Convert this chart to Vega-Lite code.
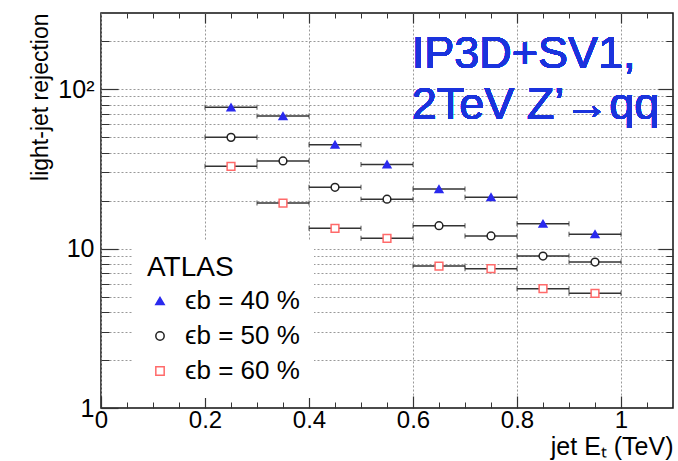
{
  "$schema": "https://vega.github.io/schema/vega-lite/v6.json",
  "width": 572,
  "height": 395,
  "autosize": {"type": "none"},
  "padding": {"left": 101, "top": 13, "right": 5, "bottom": 53},
  "config": {
    "font": "Liberation Sans",
    "view": {"stroke": "#111", "strokeWidth": 1.5},
    "axis": {"labelFont": "Liberation Sans", "titleFont": "Liberation Sans", "labelColor": "#000", "titleColor": "#000", "tickColor": "#333", "domain": false, "labelFlush": false, "labelOverlap": false}
  },
  "data": {
    "values": [
      {"eff": "ϵb = 40 %", "et": 0.25, "lo": 0.2, "hi": 0.3, "rej": 76.8},
      {"eff": "ϵb = 40 %", "et": 0.35, "lo": 0.3, "hi": 0.4, "rej": 67.7},
      {"eff": "ϵb = 40 %", "et": 0.45, "lo": 0.4, "hi": 0.5, "rej": 44.8},
      {"eff": "ϵb = 40 %", "et": 0.55, "lo": 0.5, "hi": 0.6, "rej": 33.7},
      {"eff": "ϵb = 40 %", "et": 0.65, "lo": 0.6, "hi": 0.7, "rej": 23.6},
      {"eff": "ϵb = 40 %", "et": 0.75, "lo": 0.7, "hi": 0.8, "rej": 21.0},
      {"eff": "ϵb = 40 %", "et": 0.85, "lo": 0.8, "hi": 0.9, "rej": 14.3},
      {"eff": "ϵb = 40 %", "et": 0.95, "lo": 0.9, "hi": 1.0, "rej": 12.3},
      {"eff": "ϵb = 50 %", "et": 0.25, "lo": 0.2, "hi": 0.3, "rej": 49.8},
      {"eff": "ϵb = 50 %", "et": 0.35, "lo": 0.3, "hi": 0.4, "rej": 35.4},
      {"eff": "ϵb = 50 %", "et": 0.45, "lo": 0.4, "hi": 0.5, "rej": 24.2},
      {"eff": "ϵb = 50 %", "et": 0.55, "lo": 0.5, "hi": 0.6, "rej": 20.4},
      {"eff": "ϵb = 50 %", "et": 0.65, "lo": 0.6, "hi": 0.7, "rej": 13.9},
      {"eff": "ϵb = 50 %", "et": 0.75, "lo": 0.7, "hi": 0.8, "rej": 12.0},
      {"eff": "ϵb = 50 %", "et": 0.85, "lo": 0.8, "hi": 0.9, "rej": 8.97},
      {"eff": "ϵb = 50 %", "et": 0.95, "lo": 0.9, "hi": 1.0, "rej": 8.23},
      {"eff": "ϵb = 60 %", "et": 0.25, "lo": 0.2, "hi": 0.3, "rej": 32.8},
      {"eff": "ϵb = 60 %", "et": 0.35, "lo": 0.3, "hi": 0.4, "rej": 19.3},
      {"eff": "ϵb = 60 %", "et": 0.45, "lo": 0.4, "hi": 0.5, "rej": 13.4},
      {"eff": "ϵb = 60 %", "et": 0.55, "lo": 0.5, "hi": 0.6, "rej": 11.6},
      {"eff": "ϵb = 60 %", "et": 0.65, "lo": 0.6, "hi": 0.7, "rej": 7.77},
      {"eff": "ϵb = 60 %", "et": 0.75, "lo": 0.7, "hi": 0.8, "rej": 7.47},
      {"eff": "ϵb = 60 %", "et": 0.85, "lo": 0.8, "hi": 0.9, "rej": 5.6},
      {"eff": "ϵb = 60 %", "et": 0.95, "lo": 0.9, "hi": 1.0, "rej": 5.24}
    ]
  },
  "resolve": {"axis": {"x": "independent", "y": "independent"}},
  "layer": [
    {
      "mark": {"type": "errorbar", "ticks": {"size": 5, "color": "#333", "thickness": 1.2}, "rule": {"color": "#333", "strokeWidth": 1.5}},
      "encoding": {
        "x": {"field": "lo", "type": "quantitative", "scale": {"domain": [0, 1.1], "nice": false, "zero": false},
          "axis": {"orient": "bottom", "title": null, "labels": false, "grid": false, "tickSize": -6,
            "values": [0.05, 0.1, 0.15, 0.25, 0.3, 0.35, 0.45, 0.5, 0.55, 0.65, 0.7, 0.75, 0.85, 0.9, 0.95, 1.05]}},
        "x2": {"field": "hi"},
        "y": {"field": "rej", "type": "quantitative", "scale": {"type": "log", "domain": [1, 300], "nice": false},
          "axis": {"orient": "left", "title": null, "labels": false, "grid": true, "gridDash": [2, 2], "gridColor": "#999", "gridWidth": 1, "tickSize": -8,
            "values": [2, 3, 4, 5, 6, 7, 8, 9, 10, 20, 30, 40, 50, 60, 70, 80, 90, 100, 200]}}
      }
    },
    {
      "mark": {"type": "point", "filled": false, "strokeWidth": 1.5, "opacity": 1},
      "encoding": {
        "x": {"field": "et", "type": "quantitative", "scale": {"domain": [0, 1.1], "nice": false, "zero": false},
          "axis": {"orient": "top", "title": null, "labels": false, "grid": false, "tickSize": -5,
            "values": [0.05, 0.1, 0.15, 0.25, 0.3, 0.35, 0.45, 0.5, 0.55, 0.65, 0.7, 0.75, 0.85, 0.9, 0.95, 1.05]}},
        "y": {"field": "rej", "type": "quantitative", "scale": {"type": "log", "domain": [1, 300], "nice": false},
          "axis": {"orient": "right", "title": null, "labels": false, "grid": false, "tickSize": -7,
            "values": [2, 3, 4, 5, 6, 7, 8, 9, 20, 30, 40, 50, 60, 70, 80, 90, 200]}},
        "shape": {"field": "eff", "type": "nominal", "scale": {"domain": ["ϵb = 40 %", "ϵb = 50 %", "ϵb = 60 %"], "range": ["triangle-up", "circle", "square"]},
          "legend": {"orient": "none", "legendX": 32, "legendY": 227, "title": "ATLAS", "titleFontSize": 28, "titleFontWeight": "normal", "titleColor": "#000", "titleFont": "Liberation Sans",
            "labelFontSize": 26, "labelFont": "Liberation Sans", "labelColor": "#000", "fillColor": "white", "padding": 14, "rowPadding": 9, "titlePadding": 6, "symbolStrokeWidth": 1.5, "symbolSize": 70, "labelOffset": 12}},
        "color": {"field": "eff", "type": "nominal", "scale": {"domain": ["ϵb = 40 %", "ϵb = 50 %", "ϵb = 60 %"], "range": ["#2a2aee", "#222222", "#ff6a6a"]}},
        "fill": {"field": "eff", "type": "nominal", "scale": {"domain": ["ϵb = 40 %", "ϵb = 50 %", "ϵb = 60 %"], "range": ["#2a2aee", "#ffffff", "#ffffff"]}},
        "size": {"value": 60}
      }
    },
    {
      "mark": {"type": "text", "text": "IP3D+SV1,", "align": "left", "baseline": "alphabetic", "fontSize": 45, "font": "Liberation Sans", "color": "#1a33dd"},
      "encoding": {
        "x": {"datum": 0.5975, "type": "quantitative", "scale": {"domain": [0, 1.1], "nice": false, "zero": false},
          "axis": {"orient": "bottom", "title": "jet Eₜ (TeV)", "titleFontSize": 25, "titleFontWeight": "normal", "titleAnchor": "end", "titleAlign": "right", "titleBaseline": "alphabetic", "titleX": 572, "titleY": 46,
            "labels": true, "labelFontSize": 24, "labelPadding": 12, "labelExpr": "format(datum.value, '.1~f')", "grid": true, "gridDash": [2, 2], "gridColor": "#999", "gridWidth": 1, "tickSize": -12, "tickWidth": 1.2,
            "values": [0, 0.2, 0.4, 0.6, 0.8, 1.0]}},
        "y": {"datum": 135.5, "type": "quantitative", "scale": {"type": "log", "domain": [1, 300], "nice": false},
          "axis": {"orient": "left", "title": "light-jet rejection", "titleFontSize": 23, "titleFontWeight": "normal", "titleAngle": -90, "titleAlign": "right", "titleBaseline": "alphabetic", "titleX": -54, "titleY": 0,
            "labels": true, "labelFontSize": 25, "labelPadding": 24, "labelExpr": "datum.value == 100 ? '10²' : datum.value == 10 ? '10' : '1'", "grid": false, "tickSize": -17, "tickWidth": 1.2,
            "values": [1, 10, 100]}}
      }
    },
    {
      "mark": {"type": "text", "text": "2TeV Z’→qq", "align": "left", "baseline": "alphabetic", "fontSize": 45, "font": "Liberation Sans", "color": "#1a33dd"},
      "encoding": {
        "x": {"datum": 0.5975, "type": "quantitative", "scale": {"domain": [0, 1.1], "nice": false, "zero": false},
          "axis": {"orient": "top", "title": null, "labels": false, "grid": false, "tickSize": -10, "tickWidth": 1.2,
            "values": [0.2, 0.4, 0.6, 0.8, 1.0]}},
        "y": {"datum": 64.9, "type": "quantitative", "scale": {"type": "log", "domain": [1, 300], "nice": false},
          "axis": {"orient": "right", "title": null, "labels": false, "grid": false, "tickSize": -15, "tickWidth": 1.2,
            "values": [10, 100]}}
      }
    }
  ]
}
